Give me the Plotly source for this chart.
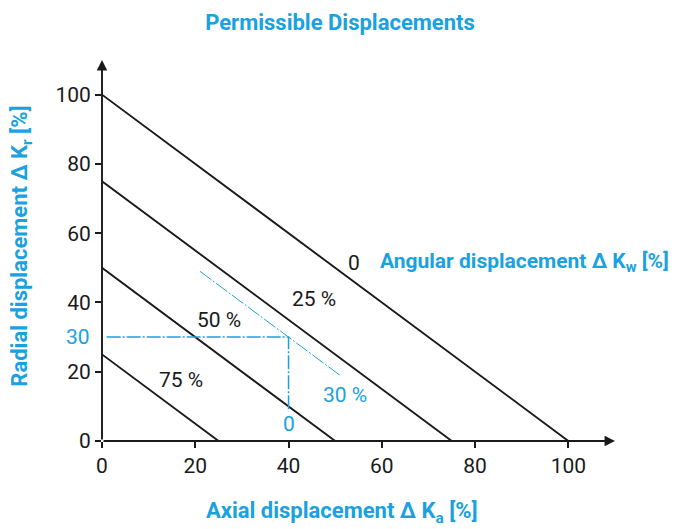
import plotly.graph_objects as go

# ---- data ----
angular_labels = ["0", "25 %", "50 %", "75 %"]          # angular displacement levels
line_start_radial = [100, 75, 50, 25]                     # radial value at axial = 0
line_end_axial = [100, 75, 50, 25]                        # axial value at radial = 0
label_x = [54, 45.5, 25, 17]
label_y = [51.5, 41, 35, 17.5]

x_ticks = [0, 20, 40, 60, 80, 100]
y_ticks = [0, 20, 40, 60, 80, 100]

example_axial = 40
example_radial = 30
example_axial_end_radial = 8.5
example_angular_x = [21, 51]
example_angular_y = [49, 19]
example_angular_label = "30 %"

BLUE = "#1aa1e0"
BLACK = "#1a1a1a"
FONT = "Roboto"

fig = go.Figure()

for i in range(len(line_start_radial)):
    fig.add_trace(go.Scatter(
        x=[0, line_end_axial[i]], y=[line_start_radial[i], 0],
        mode="lines", line=dict(color=BLACK, width=1.9),
        hoverinfo="skip", showlegend=False))

# example: horizontal dashed at radial 30, vertical at axial 40
fig.add_trace(go.Scatter(
    x=[1, example_axial, example_axial], y=[example_radial, example_radial, example_axial_end_radial],
    mode="lines", line=dict(color=BLUE, width=1.5, dash="14px,2px,2px,2px"),
    hoverinfo="skip", showlegend=False))
fig.add_trace(go.Scatter(
    x=example_angular_x, y=example_angular_y,
    mode="lines", line=dict(color=BLUE, width=1, dash="14px,2px,2px,2px"),
    hoverinfo="skip", showlegend=False))

ann = []
for i, t in enumerate(angular_labels):
    ann.append(dict(x=label_x[i], y=label_y[i], text=t, showarrow=False,
                    font=dict(family=FONT, size=21, color=BLACK),
                    xanchor="center", yanchor="middle"))
# angular displacement label
ann.append(dict(x=59.2, y=51.5, text="<b>Angular displacement Δ K<sub>w</sub> [%]</b>", showarrow=False,
                font=dict(family=FONT, size=21, color=BLUE), xanchor="left", yanchor="middle"))
ann.append(dict(x=52, y=13.3, text=example_angular_label, showarrow=False,
                font=dict(family=FONT, size=21, color=BLUE), xanchor="center", yanchor="middle"))
ann.append(dict(x=example_axial, y=4.8, text="0", showarrow=False,
                font=dict(family=FONT, size=21, color=BLUE), xanchor="center", yanchor="middle"))
ann.append(dict(x=0, y=example_radial, text=str(example_radial), showarrow=False, xshift=-10,
                font=dict(family=FONT, size=21, color=BLUE), xanchor="right", yanchor="middle"))
# axis arrows
ann.append(dict(x=110, y=0, ax=0, ay=0, xref="x", yref="y", axref="x", ayref="y", text="",
                showarrow=True, arrowhead=2, arrowsize=1.1, arrowwidth=1.9, arrowcolor=BLACK))
ann.append(dict(x=0, y=110, ax=0, ay=0, xref="x", yref="y", axref="x", ayref="y", text="",
                showarrow=True, arrowhead=2, arrowsize=1.1, arrowwidth=1.9, arrowcolor=BLACK))
# axis titles
ann.append(dict(x=0.468, y=0, xref="paper", yref="paper", yshift=-71,
                text="<b>Axial displacement Δ K<sub>a</sub> [%]</b>",
                showarrow=False, font=dict(family=FONT, size=22, color=BLUE), xanchor="center", yanchor="middle"))
ann.append(dict(x=0, y=0.51, xref="paper", yref="paper", xshift=-80, textangle=-90,
                text="<b>Radial displacement Δ K<sub>r</sub> [%]</b>",
                showarrow=False, font=dict(family=FONT, size=22, color=BLUE), xanchor="center", yanchor="middle"))

fig.update_layout(
    width=685, height=521,
    margin=dict(l=94, r=78, t=52, b=88),
    paper_bgcolor="white", plot_bgcolor="white",
    title=dict(text="<b>Permissible Displacements</b>", x=332 / 685, xref="container", y=1 - 14 / 521,
               yref="container", xanchor="center", yanchor="middle",
               font=dict(family=FONT, size=22, color=BLUE)),
    annotations=ann,
    xaxis=dict(range=[0, 110], showgrid=False, zeroline=False, showline=False,
               tickvals=x_ticks, ticks="outside", ticklen=6, tickcolor=BLACK, tickwidth=1.5,
               tickfont=dict(family=FONT, size=21, color=BLACK)),
    yaxis=dict(range=[0, 110], showgrid=False, zeroline=False, showline=False,
               tickvals=y_ticks, ticks="outside", ticklen=6, tickcolor=BLACK, tickwidth=1.5,
               tickfont=dict(family=FONT, size=21, color=BLACK)),
)

fig.write_html("out.html")
